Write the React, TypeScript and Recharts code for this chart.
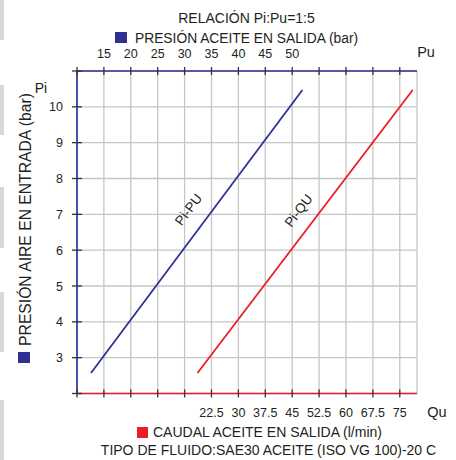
import { CartesianGrid, Line, LineChart, XAxis, YAxis } from "recharts";

const NAVY = "#2e3192";
const RED = "#ed1c24";
const INK = "#231f20";
const FONT = '"Liberation Sans", Arial, sans-serif';

// axis ticks
const piTicks = [2, 3, 4, 5, 6, 7, 8, 9, 10, 11];
const piLabels = [3, 4, 5, 6, 7, 8, 9, 10];
const puTicks = [10, 15, 20, 25, 30, 35, 40, 45, 50, 55, 60, 65, 70];
const puLabels = [15, 20, 25, 30, 35, 40, 45, 50];
const quTicks = [-15, -7.5, 0, 7.5, 15, 22.5, 30, 37.5, 45, 52.5, 60, 67.5, 75];
const quLabels = [22.5, 30, 37.5, 45, 52.5, 60, 67.5, 75];

// Pi-PU and Pi-QU lines
const linePi = [2.57, 10.47];
const linePu = [12.6, 51.9];
const lineQu = [18.6, 78.6];

const puSeries = linePi.map((pi, i) => ({ x: linePu[i], pi }));
const quSeries = linePi.map((pi, i) => ({ x: lineQu[i], pi }));

// light grey strips on the left edge of the scan
const edgeStrips = [
  [0, 40],
  [85, 135],
  [187, 248],
  [292, 352],
  [400, 460],
];

function makeTick(side: "top" | "bottom" | "left", shown: number[]) {
  return (props: any) => {
    const { x, y, payload } = props;
    const v = payload.value;
    const show = shown.includes(v);
    if (side === "left") {
      return (
        <g>
          <line x1={x - 5} x2={x + 5} y1={y} y2={y} stroke="#333" strokeWidth={1.3} />
          {show && (
            <text x={x - 14} y={y + 4.5} textAnchor="end" fontSize={12.5} fill={INK} fontFamily={FONT}>
              {v}
            </text>
          )}
        </g>
      );
    }
    const ty = side === "top" ? y - 13.5 : y + 23;
    return (
      <g>
        <line x1={x} x2={x} y1={y - 4} y2={y + 4} stroke="#333" strokeWidth={1.3} />
        {show && (
          <text x={x} y={ty} textAnchor="middle" fontSize={12.5} fill={INK} fontFamily={FONT}>
            {v}
          </text>
        )}
      </g>
    );
  };
}

export default function App() {
  return (
    <div
      style={{
        position: "fixed",
        left: 0,
        top: 0,
        width: 456,
        height: 460,
        background: "#fff",
        overflow: "hidden",
      }}
    >
      <LineChart
        width={456}
        height={460}
        margin={{ top: 70, left: 76, right: 39, bottom: 65.5 }}
      >
        <CartesianGrid xAxisId="pu" yAxisId="pi" stroke="#c6c6c6" strokeWidth={1.3} />
        <XAxis
          xAxisId="pu"
          orientation="top"
          dataKey="x"
          type="number"
          domain={[10, 73.2]}
          ticks={puTicks}
          interval={0}
          height={1}
          tickSize={0}
          tickMargin={0}
          tickLine={false}
          allowDataOverflow
          axisLine={{ stroke: NAVY, strokeWidth: 1.6 }}
          tick={makeTick("top", puLabels)}
        />
        <XAxis
          xAxisId="qu"
          orientation="bottom"
          dataKey="x"
          type="number"
          domain={[-15, 79.8]}
          ticks={quTicks}
          interval={0}
          height={1}
          tickSize={0}
          tickMargin={0}
          tickLine={false}
          allowDataOverflow
          axisLine={{ stroke: RED, strokeWidth: 1.6 }}
          tick={makeTick("bottom", quLabels)}
        />
        <YAxis
          yAxisId="pi"
          type="number"
          domain={[2, 11]}
          ticks={piTicks}
          interval={0}
          width={1}
          tickSize={0}
          tickMargin={0}
          tickLine={false}
          allowDataOverflow
          axisLine={{ stroke: "#3a43a0", strokeWidth: 1.8 }}
          tick={makeTick("left", piLabels)}
        />
        <Line
          xAxisId="pu"
          yAxisId="pi"
          data={puSeries}
          dataKey="pi"
          stroke={NAVY}
          strokeWidth={1.8}
          dot={false}
          isAnimationActive={false}
        />
        <Line
          xAxisId="qu"
          yAxisId="pi"
          data={quSeries}
          dataKey="pi"
          stroke={RED}
          strokeWidth={1.8}
          dot={false}
          isAnimationActive={false}
        />
      </LineChart>

      <svg
        width={456}
        height={460}
        style={{ position: "absolute", left: 0, top: 0, pointerEvents: "none" }}
        fontFamily={FONT}
        fill={INK}
      >
        {edgeStrips.map(([a, b]) => (
          <rect key={a} x={0} y={a} width={4} height={b - a} fill="#d8d8d8" />
        ))}
        <text x={246.5} y={23} textAnchor="middle" fontSize={14}>
          RELACIÓN Pi:Pu=1:5
        </text>
        <rect x={115} y={32} width={12} height={11} fill={NAVY} />
        <text x={135} y={42.5} fontSize={13.8}>
          PRESIÓN ACEITE EN SALIDA (bar)
        </text>
        <text x={426} y={57} textAnchor="middle" fontSize={14.5}>
          Pu
        </text>
        <text x={41} y={93} textAnchor="middle" fontSize={14}>
          Pi
        </text>
        <text x={437} y={417} textAnchor="middle" fontSize={14.5}>
          Qu
        </text>
        <text
          transform="translate(31,219.5) rotate(-90)"
          textAnchor="middle"
          fontSize={15.7}
        >
          PRESIÓN AIRE EN ENTRADA (bar)
        </text>
        <rect x={18} y={352} width={12} height={11} fill={NAVY} />
        <text transform="translate(189,210) rotate(-53)" textAnchor="middle" dy={4} fontSize={13.5}>
          Pi-PU
        </text>
        <text transform="translate(299,211) rotate(-53)" textAnchor="middle" dy={4} fontSize={13.5}>
          Pi-QU
        </text>
        <rect x={137} y={427} width={11} height={11} fill={RED} />
        <text x={153} y={437} fontSize={14}>
          CAUDAL ACEITE EN SALIDA (l/min)
        </text>
        <text x={268.5} y={455} textAnchor="middle" fontSize={14}>
          TIPO DE FLUIDO:SAE30 ACEITE (ISO VG 100)-20 C
        </text>
      </svg>
    </div>
  );
}
